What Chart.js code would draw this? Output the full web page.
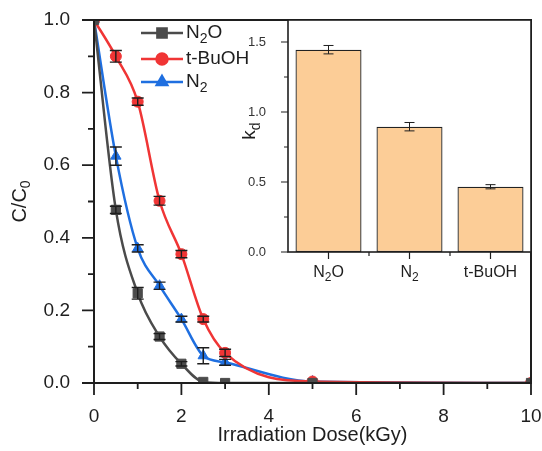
<!DOCTYPE html>
<html>
<head>
<meta charset="utf-8">
<script src="https://cdn.jsdelivr.net/npm/chart.js@4.4.1/dist/chart.umd.min.js"></script>
<style>
  html, body { margin: 0; padding: 0; background: #fff; }
  #wrap { position: relative; width: 542px; height: 451px; }
  #main { position: absolute; left: 0; top: 0; }
  #inset { position: absolute; left: 230px; top: 0; }
</style>
</head>
<body>
<div id="wrap">
  <canvas id="main" width="542" height="451"></canvas>
  <canvas id="inset" width="312" height="300"></canvas>
</div>
<script>
// main plot data (dose in kGy, C/C0)
var doses = [0, 0.5, 1, 1.5, 2, 2.5, 3, 5, 10];
var n2oValues = [1, 0.477, 0.247, 0.128, 0.053, 0.003, 0, 0, 0];
var n2oErrors = [0, 0.01, 0.016, 0.008, 0.006, 0, 0, 0, 0];
var tbuohValues = [1, 0.9, 0.775, 0.502, 0.355, 0.176, 0.083, 0.004, 0];
var tbuohErrors = [0, 0.016, 0.01, 0.012, 0.01, 0.008, 0.01, 0, 0];
var n2Values = [1, 0.625, 0.371, 0.268, 0.176, 0.075, 0.057, 0.004, 0];
var n2Errors = [0, 0.025, 0.01, 0.01, 0.008, 0.022, 0.008, 0, 0];
var xTicks = [0, 2, 4, 6, 8, 10];
var yTicks = [0, 0.2, 0.4, 0.6, 0.8, 1.0];

// inset data ("_" marks a one-char subscript)
var insetLabels = ['N_2O', 'N_2', 't-BuOH'];
var kdValues = [1.445, 0.895, 0.466];
var kdErrors = [0.03, 0.03, 0.015];
var kdTicks = [0, 0.5, 1, 1.5];

var FONT = "'Liberation Sans', Arial, Helvetica, sans-serif";
var INK = '#1e1e1e';

// split 'N_2O' into parts, subscript flagged
function parseRich(s) {
  var parts = [], buf = '';
  for (var i = 0; i < s.length; i++) {
    if (s[i] === '_' && i + 1 < s.length) {
      if (buf) parts.push({ t: buf, sub: false });
      buf = '';
      parts.push({ t: s[i + 1], sub: true });
      i++;
    } else {
      buf += s[i];
    }
  }
  if (buf) parts.push({ t: buf, sub: false });
  return parts;
}

function drawRich(ctx, str, x, y, size, align) {
  var parts = parseRich(str);
  var subSize = Math.round(size * 0.72);
  var w = 0;
  parts.forEach(function (p) {
    ctx.font = (p.sub ? subSize : size) + 'px ' + FONT;
    p.w = ctx.measureText(p.t).width;
    w += p.w;
  });
  var cx = x;
  if (align === 'center') cx = x - w / 2;
  if (align === 'right') cx = x - w;
  ctx.textAlign = 'left';
  ctx.textBaseline = 'middle';
  parts.forEach(function (p) {
    ctx.font = (p.sub ? subSize : size) + 'px ' + FONT;
    ctx.fillText(p.t, cx, p.sub ? y + size * 0.3 : y);
    cx += p.w;
  });
}

function points(vals) {
  return doses.map(function (d, i) { return { x: d, y: vals[i] }; });
}

// no label overhang padding, so the plot box sits where the picture has it
function noPad(s) { s.paddingLeft = 0; s.paddingRight = 0; s.paddingTop = 0; s.paddingBottom = 0; }

// error bars for any dataset carrying an "errors" array
var errorBars = {
  id: 'errorBars',
  afterDatasetsDraw: function (chart) {
    var ctx = chart.ctx;
    var ys = chart.scales.y;
    ctx.save();
    ctx.strokeStyle = INK;
    chart.data.datasets.forEach(function (ds, di) {
      if (!ds.errors) return;
      var meta = chart.getDatasetMeta(di);
      var cap = ds.capWidth || 6;
      ctx.lineWidth = ds.errWidth || 1.4;
      meta.data.forEach(function (el, i) {
        var e = ds.errors[i];
        if (!e) return;
        var v = typeof ds.data[i] === 'object' ? ds.data[i].y : ds.data[i];
        var x = el.x;
        var t = ys.getPixelForValue(v + e), b = ys.getPixelForValue(v - e);
        ctx.beginPath();
        ctx.moveTo(x, t); ctx.lineTo(x, b);
        ctx.moveTo(x - cap, t); ctx.lineTo(x + cap, t);
        ctx.moveTo(x - cap, b); ctx.lineTo(x + cap, b);
        ctx.stroke();
      });
    });
    ctx.restore();
  }
};

// frame + major/minor tick marks + legend + y title for the main plot
var mainDecor = {
  id: 'mainDecor',
  afterDraw: function (chart) {
    var ctx = chart.ctx, a = chart.chartArea;
    var xs = chart.scales.x, ys = chart.scales.y;
    ctx.save();
    ctx.strokeStyle = INK;
    ctx.lineWidth = 2;
    ctx.strokeRect(a.left, a.top, a.right - a.left, a.bottom - a.top);
    ctx.lineWidth = 1.8;
    ctx.beginPath();
    for (var i = 0; i <= 10; i++) {
      var px = xs.getPixelForValue(i);
      ctx.moveTo(px, a.bottom); ctx.lineTo(px, a.bottom + (i % 2 === 0 ? 12 : 6));
    }
    for (var j = 0; j <= 10; j++) {
      var py = ys.getPixelForValue(j / 10);
      ctx.moveTo(a.left, py); ctx.lineTo(a.left - (j % 2 === 0 ? 12 : 6), py);
    }
    ctx.stroke();

    // legend
    var lx = a.left + 47, rows = [13, 39, 62];
    chart.data.datasets.forEach(function (ds, k) {
      var yy = a.top + rows[k];
      ctx.strokeStyle = ds.borderColor;
      ctx.lineWidth = 2.5;
      ctx.beginPath(); ctx.moveTo(lx, yy); ctx.lineTo(lx + 42, yy); ctx.stroke();
      ctx.fillStyle = ds.backgroundColor;
      Chart.helpers.drawPoint(ctx, { pointStyle: ds.pointStyle, radius: ds.pointRadius, borderWidth: 1, rotation: 0 }, lx + 21, yy);
      ctx.fill();
      ctx.fillStyle = INK;
      drawRich(ctx, ds.label, lx + 45, yy, 19, 'left');
    });

    // y axis title
    ctx.translate(20, (a.top + a.bottom) / 2);
    ctx.rotate(-Math.PI / 2);
    ctx.fillStyle = INK;
    drawRich(ctx, 'C/C_0', 0, 0, 20, 'center');
    ctx.restore();
  }
};

var mainChart = new Chart(document.getElementById('main').getContext('2d'), {
  type: 'line',
  data: {
    datasets: [
      { label: 'N_2O', data: points(n2oValues), errors: n2oErrors,
        borderColor: '#4b4b4b', backgroundColor: '#4b4b4b', pointStyle: 'rect', pointRadius: 6.5 },
      { label: 't-BuOH', data: points(tbuohValues), errors: tbuohErrors,
        borderColor: '#f03535', backgroundColor: '#f03535', pointStyle: 'circle', pointRadius: 5.5 },
      { label: 'N_2', data: points(n2Values), errors: n2Errors,
        borderColor: '#1f6fe0', backgroundColor: '#1f6fe0', pointStyle: 'triangle', pointRadius: 6 }
    ].map(function (ds) {
      ds.borderWidth = 2.5;
      ds.pointBorderWidth = 1;
      ds.cubicInterpolationMode = 'monotone';
      ds.clip = 0;
      return ds;
    })
  },
  options: {
    responsive: false,
    animation: false,
    layout: { padding: { top: 20, right: 11, left: 0, bottom: 0 } },
    plugins: { legend: { display: false }, tooltip: { enabled: false } },
    scales: {
      x: {
        type: 'linear', min: 0, max: 10,
        grid: { display: false }, border: { display: false },
        afterBuildTicks: function (s) { s.ticks = xTicks.map(function (v) { return { value: v }; }); },
        ticks: { padding: 14, color: INK, font: { size: 19, family: FONT }, callback: function (v) { return String(v); } },
        title: { display: true, text: 'Irradiation Dose(kGy)', color: INK, font: { size: 20, family: FONT }, padding: { top: 0, bottom: 4 } },
        afterFit: function (s) { s.height = 68; noPad(s); }
      },
      y: {
        min: 0, max: 1,
        grid: { display: false }, border: { display: false },
        afterBuildTicks: function (s) { s.ticks = yTicks.map(function (v) { return { value: v }; }); },
        ticks: { padding: 16, color: INK, font: { size: 19, family: FONT }, callback: function (v) { return v.toFixed(1); } },
        afterFit: function (s) { s.width = 94; noPad(s); }
      }
    }
  },
  plugins: [errorBars, mainDecor]
});

// inset: white plot background, frame, ticks, labels with subscripts, k_d title
var insetDecor = {
  id: 'insetDecor',
  beforeDraw: function (chart) {
    var ctx = chart.ctx, a = chart.chartArea;
    ctx.save();
    ctx.fillStyle = '#fff';
    ctx.fillRect(a.left, a.top, a.right - a.left, a.bottom - a.top);
    ctx.restore();
  },
  afterDraw: function (chart) {
    var ctx = chart.ctx, a = chart.chartArea;
    var xs = chart.scales.x, ys = chart.scales.y;
    ctx.save();
    ctx.strokeStyle = INK;
    ctx.lineWidth = 1.6;
    ctx.strokeRect(a.left, a.top, a.right - a.left, a.bottom - a.top);
    ctx.lineWidth = 1.2;
    ctx.beginPath();
    for (var j = 0; j <= 6; j++) {
      var py = ys.getPixelForValue(j * 0.25);
      ctx.moveTo(a.left, py); ctx.lineTo(a.left - (j % 2 === 0 ? 7 : 4), py);
    }
    insetLabels.forEach(function (lab, i) {
      var px = xs.getPixelForValue(i);
      ctx.moveTo(px, a.bottom); ctx.lineTo(px, a.bottom + 7);
      if (i > 0) {
        var bx = (px + xs.getPixelForValue(i - 1)) / 2;
        ctx.moveTo(bx, a.bottom); ctx.lineTo(bx, a.bottom + 4);
      }
    });
    ctx.stroke();
    ctx.fillStyle = INK;
    insetLabels.forEach(function (lab, i) {
      drawRich(ctx, lab, xs.getPixelForValue(i), a.bottom + 21, 16, 'center');
    });
    ctx.translate(20, 131);
    ctx.rotate(-Math.PI / 2);
    drawRich(ctx, 'k_d', 0, 0, 19, 'center');
    ctx.restore();
  }
};

var insetChart = new Chart(document.getElementById('inset').getContext('2d'), {
  type: 'bar',
  data: {
    labels: insetLabels,
    datasets: [{
      label: 'k_d',
      data: kdValues,
      errors: kdErrors,
      capWidth: 5,
      errWidth: 1,
      backgroundColor: '#fccd97',
      borderColor: '#222',
      borderWidth: 1.3,
      borderSkipped: false,
      barPercentage: 0.815,
      categoryPercentage: 1.0
    }]
  },
  options: {
    responsive: false,
    animation: false,
    layout: { padding: { top: 20, right: 11, left: 0, bottom: 0 } },
    plugins: { legend: { display: false }, tooltip: { enabled: false } },
    scales: {
      x: {
        grid: { display: false }, border: { display: false },
        ticks: { display: false },
        afterFit: function (s) { s.height = 48; noPad(s); }
      },
      y: {
        min: 0, max: 1.657,
        grid: { display: false }, border: { display: false },
        afterBuildTicks: function (s) { s.ticks = kdTicks.map(function (v) { return { value: v }; }); },
        ticks: { padding: 14, color: '#333', font: { size: 13, family: FONT }, callback: function (v) { return v.toFixed(1); } },
        afterFit: function (s) { s.width = 58; noPad(s); }
      }
    }
  },
  plugins: [errorBars, insetDecor]
});
</script>
</body>
</html>
